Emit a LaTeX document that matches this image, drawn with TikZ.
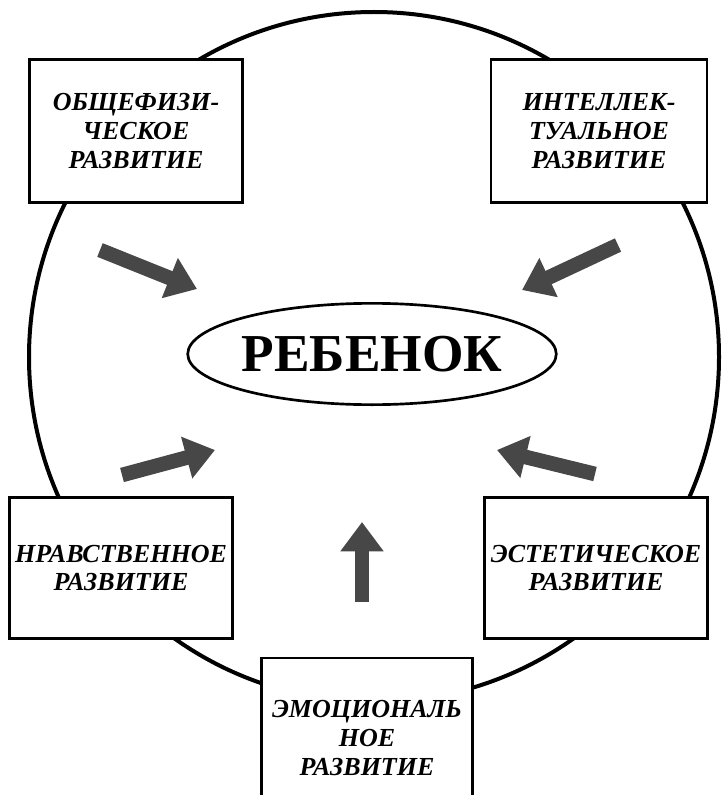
\documentclass[tikz,border=0pt]{standalone}
\usepackage{fontspec}
\setmainfont{Liberation Serif}
\usetikzlibrary{shapes.geometric, arrows.meta}

\begin{document}
\begin{tikzpicture}[x=0.75pt,y=-0.75pt,
  dev/.style={rectangle,draw=black,line width=1.8pt,fill=white,inner sep=0pt,align=center,font=\fontsize{19.5}{21.5}\selectfont\bfseries\itshape},
  core/.style={ellipse,draw=black,line width=2pt,fill=white,inner sep=0pt,minimum width=266pt,minimum height=76pt,font=\fontsize{40}{44}\selectfont\bfseries},
  push/.style={-{Triangle[length=22pt,width=31pt]},line width=11pt,draw=black!72}
]
  \useasboundingbox (0,0) rectangle (725,795);
  \coordinate (mid) at (374,357);
  \draw[line width=3pt] (mid) circle[radius=345];

  \node[core](child) at (372,354) {РЕБЕНОК};
  \node[dev,minimum width=160pt,minimum height=107pt](phys)  at (136,131) {ОБЩЕФИЗИ-\\ЧЕСКОЕ\\РАЗВИТИЕ};
  \node[dev,minimum width=162pt,minimum height=107pt](intel) at (599,131) {ИНТЕЛЛЕК-\\ТУАЛЬНОЕ\\РАЗВИТИЕ};
  \node[dev,minimum width=167pt,minimum height=106pt](moral) at (121,568) {НРАВСТВЕННОЕ\\РАЗВИТИЕ};
  \node[dev,minimum width=167pt,minimum height=106pt](aesth) at (596,568) {ЭСТЕТИЧЕСКОЕ\\РАЗВИТИЕ};
  \node[dev,minimum width=158pt,minimum height=120pt](emot)  at (367,738) {ЭМОЦИОНАЛЬ\\НОЕ\\РАЗВИТИЕ};

  \coordinate (t1) at (100,250); \coordinate (h1) at (197,289);
  \coordinate (t2) at (618,245); \coordinate (h2) at (522,290);
  \coordinate (t3) at (122,475); \coordinate (h3) at (215,450);
  \coordinate (t4) at (595,474); \coordinate (h4) at (497,450);
  \coordinate (t5) at (362,602); \coordinate (h5) at (362,522);
  \draw[push](t1)--(h1); \draw[push](t2)--(h2);
  \draw[push](t3)--(h3); \draw[push](t4)--(h4);
  \draw[push](t5)--(h5);
\end{tikzpicture}
\end{document}
